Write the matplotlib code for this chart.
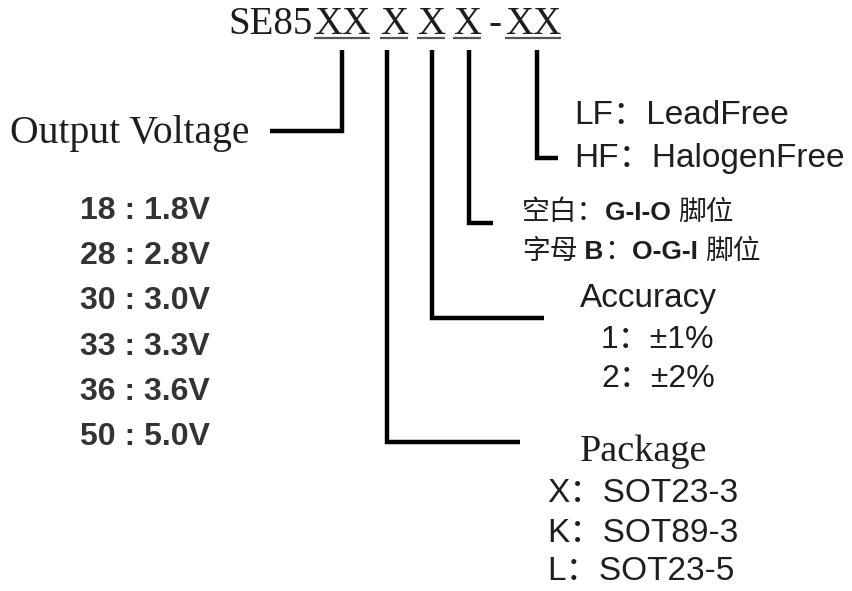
import matplotlib.pyplot as plt

# part number pieces (underlined ones are the option fields)
TITLE_PARTS = ['SE85', 'XX', 'X', 'X', 'X', '-', 'XX']
UNDERLINED = [False, True, True, True, True, False, True]

VOLTAGE_TITLE = 'Output Voltage'
VOLTAGE_CODES = ['18', '28', '30', '33', '36', '50']
VOLTAGE_VALUES = ['1.8V', '2.8V', '3.0V', '3.3V', '3.6V', '5.0V']

ROHS_LINES = ['LF：LeadFree', 'HF：HalogenFree']
PIN_LINES = ['空白：G-I-O 脚位', '字母 B：O-G-I 脚位']
ACCURACY_TITLE = 'Accuracy'
ACCURACY_LINES = ['1：±1%', '2：±2%']
PACKAGE_TITLE = 'Package'
PACKAGE_LINES = ['X：SOT23-3', 'K：SOT89-3', 'L：SOT23-5']

SERIF = ['Liberation Serif', 'DejaVu Serif']
SANS = ['Liberation Sans', 'Noto Sans CJK SC', 'DejaVu Sans']
CJK = ['Noto Sans CJK SC', 'Liberation Sans', 'DejaVu Sans']
INK = '#1e1e1e'
LW = 3.2


def right_edge(ax, fig, t):
    # right edge of a text artist in data coords
    bb = t.get_window_extent(fig.canvas.get_renderer())
    return ax.transData.inverted().transform((bb.x1, bb.y0))[0]


def draw_title(ax, fig):
    # left edge of each title piece (pixels)
    lefts = [228, 314, 380, 417, 453, 489, 505]
    renderer = fig.canvas.get_renderer()
    inv = ax.transData.inverted()
    for part, x, ul in zip(TITLE_PARTS, lefts, UNDERLINED):
        t = ax.text(x, 34, part, family=SERIF, fontsize=28, color=INK,
                    ha='left', va='baseline')
        if ul:
            bb = t.get_window_extent(renderer)
            (x0, _), (x1, _) = inv.transform([(bb.x0, bb.y0), (bb.x1, bb.y1)])
            ax.plot([x0, x1], [38, 38], color='#555555', lw=1.6,
                    solid_capstyle='butt')


def draw_mixed(ax, fig, x, y, s):
    # split into CJK / latin runs: thin CJK glyphs, bold latin
    runs = []
    for ch in s:
        is_cjk = ord(ch) > 0x2E80
        if runs and runs[-1][1] == is_cjk:
            runs[-1][0] += ch
        else:
            runs.append([ch, is_cjk])
    for text, is_cjk in runs:
        if is_cjk:
            t = ax.text(x, y, text, family=CJK, fontsize=20, color=INK,
                        ha='left', va='baseline')
        else:
            t = ax.text(x, y, text, family=SANS, fontsize=19,
                        fontweight='bold', color=INK, ha='left',
                        va='baseline')
        x = right_edge(ax, fig, t)


def draw_leaders(ax):
    # each leader: x of the vertical drop, y of the turn, x of the end
    leaders = [(342, 131, 270), (387, 442, 520), (432, 318, 544),
               (469, 223, 493), (537, 158, 558)]
    for x, y, xend in leaders:
        ax.plot([x, x, xend], [50, y, y], color='black', lw=LW,
                solid_joinstyle='miter', solid_capstyle='butt')


def main():
    fig = plt.figure(figsize=(8.53, 5.91), dpi=100)
    ax = fig.add_axes([0, 0, 1, 1])
    ax.set_xlim(0, 853)
    ax.set_ylim(591, 0)
    ax.axis('off')

    draw_title(ax, fig)
    draw_leaders(ax)

    # output voltage block
    ax.text(130, 134, VOLTAGE_TITLE, family=SERIF, fontsize=28.5, color=INK,
            ha='center', va='center')
    for i, (code, val) in enumerate(zip(VOLTAGE_CODES, VOLTAGE_VALUES)):
        ax.text(145, 211 + i * 45.2, code + ' : ' + val, family=SANS,
                fontsize=23, fontweight='bold', color='#333333',
                ha='center', va='center')

    # lead free / halogen free
    for i, line in enumerate(ROHS_LINES):
        ax.text(574, 116 + i * 42, line, family=SANS, fontsize=24,
                color=INK, ha='left', va='center')

    # pin order
    for i, line in enumerate(PIN_LINES):
        draw_mixed(ax, fig, 522, 220 + i * 39, line)

    # accuracy
    ax.text(648, 298, ACCURACY_TITLE, family=SANS, fontsize=24, color=INK,
            ha='center', va='center')
    for i, line in enumerate(ACCURACY_LINES):
        ax.text(601, 340 + i * 39, line, family=SANS, fontsize=23,
                color=INK, ha='left', va='center')

    # package
    ax.text(644, 452, PACKAGE_TITLE, family=SERIF, fontsize=27.5, color=INK,
            ha='center', va='center')
    for i, line in enumerate(PACKAGE_LINES):
        ax.text(547, 494 + i * 39, line, family=SANS, fontsize=24,
                color=INK, ha='left', va='center')

    fig.savefig('out.png', dpi=100, facecolor='white')


if __name__ == '__main__':
    main()
